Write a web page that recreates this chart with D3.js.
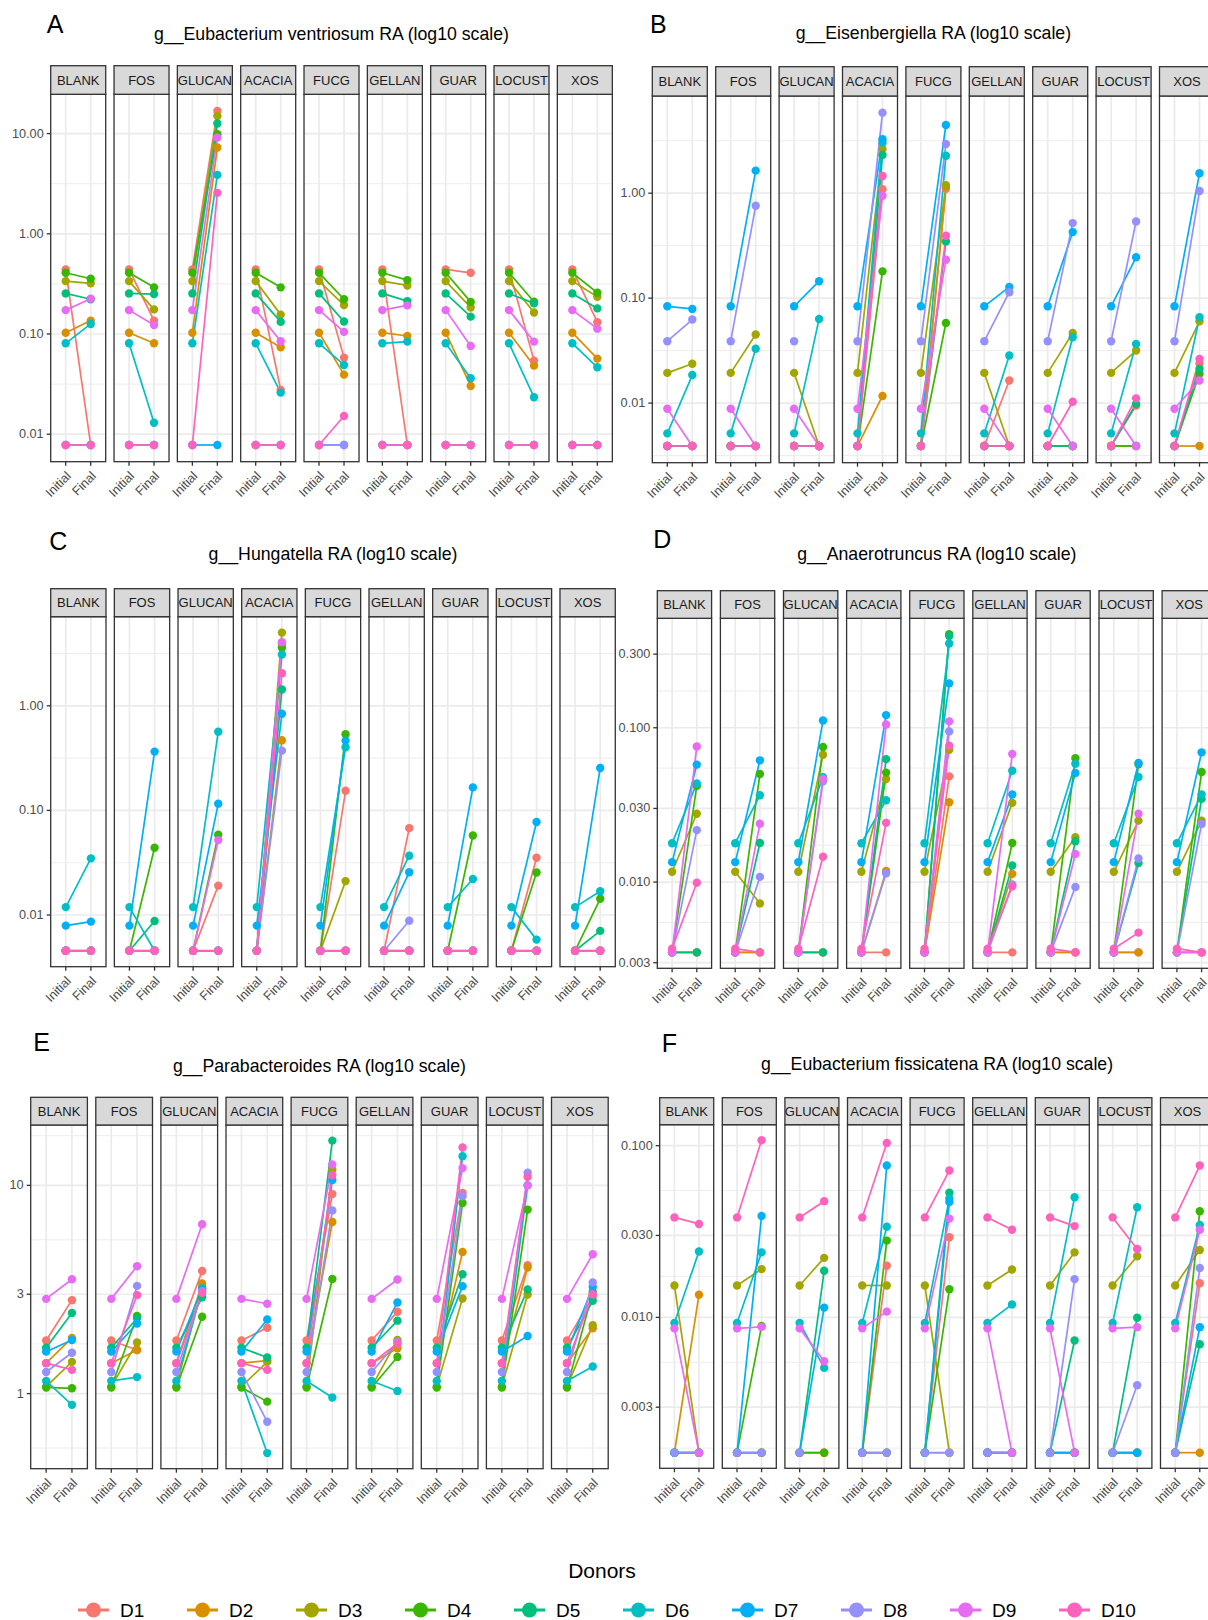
<!DOCTYPE html>
<html>
<head>
<meta charset="utf-8">
<script src="https://cdn.jsdelivr.net/npm/d3@7"></script>
<style>
  body { margin: 0; background: #fff; }
  svg { display: block; }
  text { font-family: "Liberation Sans", Arial, Helvetica, sans-serif; }
</style>
</head>
<body>
<div id="chart"></div>
<script>
// Categories
var donors = ["D1", "D2", "D3", "D4", "D5", "D6", "D7", "D8", "D9", "D10"];
var donorColors = ["#F8766D", "#D89000", "#A3A500", "#39B600", "#00BF7D",
                   "#00BFC4", "#00B0F6", "#9590FF", "#E76BF3", "#FF62BC"];
var substrates = ["BLANK", "FOS", "GLUCAN", "ACACIA", "FUCG", "GELLAN", "GUAR", "LOCUST", "XOS"];
var timepoints = ["Initial", "Final"];

// Tick break lists (log10 scale), filtered to the visible range later
var decadeBreaks = [0.001, 0.01, 0.1, 1, 10, 100];
var oneThreeBreaksLow = [0.001, 0.003, 0.01, 0.03, 0.1, 0.3, 1];
var oneThreeBreaksHigh = [0.1, 0.3, 1, 3, 10, 30, 100];

// ---- A: g__Eubacterium ventriosum (Initial per donor, Final per substrate x donor)
var ventriosumInitial = [0.441, 0.103, 0.337, 0.408, 0.254, 0.0807, 0.0078, 0.0078, 0.173, 0.0078];
var ventriosumFinal = [
  [0.0078, 0.136, 0.320, 0.356, 0.222, 0.126, 0.0078, 0.0078, 0.225, 0.0078],
  [0.136, 0.0807, 0.176, 0.292, 0.250, 0.0130, 0.0078, 0.0078, 0.123, 0.0078],
  [16.8, 7.25, 15.0, 9.85, 12.6, 3.87, 0.0078, null, 9.12, 2.56],
  [0.0277, 0.0736, 0.156, 0.292, 0.132, 0.0260, 0.0078, 0.0078, 0.0845, 0.0078],
  [0.0581, 0.0393, 0.194, 0.222, 0.133, 0.0491, 0.0078, 0.0078, 0.105, 0.0152],
  [0.0078, 0.0955, 0.305, 0.345, 0.213, 0.0839, 0.0078, 0.0078, 0.193, 0.0078],
  [0.408, 0.0303, 0.184, 0.209, 0.149, 0.0361, 0.0078, 0.0078, 0.0759, 0.0078],
  [0.0542, 0.0483, 0.164, 0.210, 0.202, 0.0234, 0.0078, 0.0078, 0.0839, 0.0078],
  [0.131, 0.0568, 0.235, 0.258, 0.180, 0.0465, 0.0078, 0.0078, 0.113, 0.0078]
];

// ---- B: g__Eisenbergiella
var eisenInitial = [0.0039, 0.0039, 0.0194, 0.0039, 0.0039, 0.00515, 0.0836, 0.0389, 0.00883, 0.0039];
var eisenFinal = [
  [0.0039, 0.0039, 0.0237, 0.0039, 0.0039, 0.0185, 0.0789, 0.0625, 0.0039, 0.0039],
  [0.0039, 0.0039, 0.045, 0.0039, 0.0039, 0.0329, 1.64, 0.758, 0.0039, 0.0039],
  [0.0039, 0.0039, 0.0039, 0.0039, 0.0039, 0.0634, 0.145, null, 0.0039, 0.0039],
  [1.09, 0.0117, 2.64, 0.180, 2.31, 3.03, 3.26, 5.85, 0.944, 1.46],
  [1.10, 1.15, 1.19, 0.058, 0.347, 2.27, 4.47, 2.94, 0.232, 0.393],
  [0.0164, 0.0039, 0.0039, 0.0039, 0.0039, 0.0284, 0.128, 0.114, 0.0039, 0.0039],
  [0.0039, 0.0039, 0.0466, 0.0039, 0.0039, 0.0424, 0.426, 0.519, 0.0039, 0.0103],
  [0.0095, 0.0039, 0.0317, 0.0039, 0.0098, 0.0366, 0.245, 0.538, 0.0039, 0.0111],
  [0.0238, 0.0039, 0.0602, 0.019, 0.0212, 0.0657, 1.55, 1.05, 0.0164, 0.0264]
];

// ---- C: g__Hungatella
var hungaInitial = [0.00455, 0.00455, 0.00455, 0.00455, 0.00455, 0.0119, 0.00792, 0.00455, 0.00455, 0.00455];
var hungaFinal = [
  [0.00455, 0.00455, 0.00455, 0.00455, 0.00455, 0.0348, 0.00865, 0.00455, 0.00455, 0.00455],
  [0.00455, 0.00455, 0.00455, 0.0440, 0.00877, 0.00455, 0.365, 0.00455, 0.00455, 0.00455],
  [0.0191, 0.00455, 0.00455, 0.0585, 0.00455, 0.566, 0.116, 0.00455, 0.052, 0.00455],
  [3.9, 0.468, 5.01, 3.59, 1.43, 3.10, 0.84, 0.373, 4.06, 2.05],
  [0.154, 0.00455, 0.0211, 0.534, 0.00455, 0.402, 0.465, 0.00455, 0.00455, 0.00455],
  [0.0677, 0.00455, 0.00455, 0.00455, 0.00455, 0.0369, 0.0256, 0.00883, 0.00455, 0.00455],
  [0.00455, 0.00455, 0.00455, 0.0576, 0.00455, 0.0221, 0.166, 0.00455, 0.00455, 0.00455],
  [0.0353, 0.00455, 0.00455, 0.0255, 0.00455, 0.00582, 0.0776, 0.00455, 0.00455, 0.00455],
  [0.00455, 0.00455, 0.00455, 0.0143, 0.00705, 0.0169, 0.254, 0.00455, 0.00455, 0.00455]
];

// ---- D: g__Anaerotruncus
var anaeroInitial = [0.0035, 0.0035, 0.01166, 0.0035, 0.0035, 0.01786, 0.01346, 0.0035, 0.0035, 0.0037];
var anaeroFinal = [
  [0.0035, 0.0035, 0.0277, 0.042, 0.0035, 0.0435, 0.0577, 0.0217, 0.0757, 0.0099],
  [0.0035, 0.0035, 0.00727, 0.0501, 0.0179, 0.0365, 0.0615, 0.0108, 0.0239, 0.0035],
  [0.0035, 0.0035, 0.0669, 0.075, 0.0035, 0.0478, 0.1114, 0.045, 0.0466, 0.0146],
  [0.0035, 0.0118, 0.0466, 0.0512, 0.0626, 0.0339, 0.1208, 0.0114, 0.105, 0.0242],
  [0.0484, 0.0329, 0.072, 0.404, 0.393, 0.352, 0.194, 0.0947, 0.110, 0.0765],
  [0.0035, 0.0113, 0.0326, 0.0179, 0.0128, 0.0527, 0.0369, 0.00966, 0.0676, 0.0094],
  [0.0035, 0.0035, 0.0195, 0.0634, 0.0184, 0.0585, 0.0509, 0.0093, 0.0152, 0.0035],
  [0.0035, 0.0035, 0.0250, 0.058, 0.0133, 0.048, 0.0591, 0.0142, 0.0277, 0.0047],
  [0.0035, 0.0035, 0.025, 0.0517, 0.0346, 0.0369, 0.0693, 0.0238, 0.0035, 0.0035]
];

// ---- E: g__Parabacteroides
var paraInitial = [1.80, 1.40, 1.08, 1.07, 1.66, 1.15, 1.59, 1.27, 2.85, 1.40];
var paraFinal = [
  [2.81, 1.85, 1.42, 1.06, 2.44, 0.883, 1.81, 1.57, 3.54, 1.30],
  [1.62, 1.62, 1.76, 2.36, 2.30, 1.20, 2.17, 3.29, 4.09, 2.97],
  [3.88, 3.38, 3.25, 2.34, 2.9, 3.15, 3.2, 3.1, 6.5, 3.05],
  [2.07, 1.44, 1.42, 0.915, 1.49, 0.518, 2.27, 0.732, 2.70, 1.30],
  [9.08, 6.67, 11.9, 3.55, 16.4, 0.957, 10.6, 7.58, 12.6, 11.2],
  [2.47, 1.65, 1.81, 1.50, 2.24, 1.03, 2.74, 1.77, 3.53, 1.74],
  [9.19, 4.79, 2.86, 8.23, 3.74, 13.8, 3.28, 8.86, 12.1, 15.2],
  [4.14, 4.03, 2.99, 7.65, 3.16, 10.0, 1.89, 11.5, 10.0, 11.0],
  [2.92, 2.06, 2.13, 3.08, 2.79, 1.35, 3.25, 3.42, 4.67, 3.0]
];

// ---- F: g__Eubacterium fissicatena
var fissiInitial = [0.00163, 0.00163, 0.01534, 0.00163, 0.00163, 0.00928, 0.00163, 0.00163, 0.00863, 0.0382];
var fissiFinal = [
  [0.00163, 0.01355, 0.00163, 0.00163, 0.00163, 0.0242, 0.00163, 0.00163, 0.00163, 0.035],
  [0.00163, 0.00163, 0.0191, 0.0089, 0.00163, 0.0239, 0.0389, 0.00163, 0.0088, 0.1074],
  [0.00163, 0.00163, 0.0222, 0.00163, 0.0187, 0.00508, 0.0114, null, 0.00556, 0.0475],
  [0.02, 0.00163, 0.01534, 0.028, 0.00163, 0.0337, 0.0766, 0.00163, 0.0108, 0.1036],
  [0.0293, 0.00163, 0.00163, 0.0146, 0.0532, 0.0493, 0.047, 0.00163, 0.0376, 0.0716],
  [0.00163, 0.00163, 0.0190, 0.00163, 0.00163, 0.0119, 0.00163, 0.00163, 0.00163, 0.0324],
  [0.00163, 0.00163, 0.0239, 0.00163, 0.00733, 0.0501, 0.00163, 0.0167, 0.00163, 0.034],
  [0.00163, 0.00163, 0.0227, 0.00163, 0.00996, 0.0438, 0.00163, 0.00403, 0.00877, 0.025],
  [0.0158, 0.00163, 0.0247, 0.0415, 0.00697, 0.0345, 0.00877, 0.0194, 0.0324, 0.0766]
];

// Panel layout (pixel positions of the facet grid, labels)
var panels = [
  { letter: "A", title: "g__Eubacterium ventriosum RA (log10 scale)", initial: ventriosumInitial, final: ventriosumFinal,
    breaks: decadeBreaks, fmt: ".2f", x0: 50.7, step: 63.33, w: 55, stripTop: 65.7, top: 94.3, bottom: 461.7,
    lx: 46.7, ly: 33, ty: 40 },
  { letter: "B", title: "g__Eisenbergiella RA (log10 scale)", initial: eisenInitial, final: eisenFinal,
    breaks: decadeBreaks, fmt: ".2f", x0: 652.3, step: 63.4, w: 55, stripTop: 66.7, top: 96, bottom: 462.7,
    lx: 650, ly: 33, ty: 38.5 },
  { letter: "C", title: "g__Hungatella RA (log10 scale)", initial: hungaInitial, final: hungaFinal,
    breaks: decadeBreaks, fmt: ".2f", x0: 50.7, step: 63.66, w: 55.3, stripTop: 588.7, top: 616.7, bottom: 966.7,
    lx: 49.3, ly: 550, ty: 559.5 },
  { letter: "D", title: "g__Anaerotruncus RA (log10 scale)", initial: anaeroInitial, final: anaeroFinal,
    breaks: oneThreeBreaksLow, fmt: ".3f", x0: 657.3, step: 63.1, w: 54.3, stripTop: 590.7, top: 618.3, bottom: 968.3,
    lx: 653.3, ly: 548.3, ty: 559.5 },
  { letter: "E", title: "g__Parabacteroides RA (log10 scale)", initial: paraInitial, final: paraFinal,
    breaks: oneThreeBreaksHigh, fmt: "~g", x0: 30.7, step: 65.1, w: 56.7, stripTop: 1097.3, top: 1125, bottom: 1468.7,
    lx: 33.3, ly: 1050.7, ty: 1072 },
  { letter: "F", title: "g__Eubacterium fissicatena RA (log10 scale)", initial: fissiInitial, final: fissiFinal,
    breaks: oneThreeBreaksLow, fmt: ".3f", x0: 659.7, step: 62.6, w: 54, stripTop: 1097.7, top: 1124.7, bottom: 1468.3,
    lx: 661.7, ly: 1052.3, ty: 1069.5 }
];

var svg = d3.select("#chart")
  .append("svg")
    .attr("width", 1208)
    .attr("height", 1620)
    .style("background", "#fff");

panels.forEach(function(p) {
  var g = svg.append("g").attr("class", "panel");

  // y scale: log10, ggplot-like 5% expansion of the data range
  var logs = p.initial.concat(d3.merge(p.final)).filter(function(v) { return v != null; }).map(Math.log10);
  var lo = d3.min(logs), hi = d3.max(logs), pad = (hi - lo) * 0.05;
  var y = d3.scaleLog().domain([Math.pow(10, lo - pad), Math.pow(10, hi + pad)]).range([p.bottom, p.top]);
  var dom = y.domain();
  var inRange = function(b) { return b >= dom[0] && b <= dom[1]; };
  var major = p.breaks.filter(inRange);
  var minor = d3.pairs(p.breaks).map(function(d) { return Math.sqrt(d[0] * d[1]); }).filter(inRange);
  var fmt = d3.format(p.fmt);

  // facet positions
  var facet = d3.scalePoint().domain(substrates).range([p.x0, p.x0 + p.step * (substrates.length - 1)]);

  // title + panel letter
  g.append("text")
    .attr("x", p.x0 + (p.step * (substrates.length - 1) + p.w) / 2)
    .attr("y", p.ty)
    .attr("text-anchor", "middle")
    .style("font-size", "17.7px")
    .style("fill", "#000")
    .text(p.title);
  g.append("text")
    .attr("x", p.lx)
    .attr("y", p.ly)
    .style("font-size", "25px")
    .style("fill", "#000")
    .text(p.letter);

  substrates.forEach(function(sub, si) {
    var fx = facet(sub);
    var x = d3.scalePoint().domain(timepoints).range([fx, fx + p.w]).padding(0.6);
    var f = g.append("g").attr("class", "facet");

    f.append("rect")
      .attr("x", fx).attr("y", p.top)
      .attr("width", p.w).attr("height", p.bottom - p.top)
      .attr("fill", "#fff");

    // grid lines
    f.selectAll("line.minor").data(minor).enter().append("line")
      .attr("class", "minor")
      .attr("x1", fx).attr("x2", fx + p.w)
      .attr("y1", function(d) { return y(d); }).attr("y2", function(d) { return y(d); })
      .attr("stroke", "#EBEBEB").attr("stroke-width", 0.9);
    f.selectAll("line.major").data(major).enter().append("line")
      .attr("class", "major")
      .attr("x1", fx).attr("x2", fx + p.w)
      .attr("y1", function(d) { return y(d); }).attr("y2", function(d) { return y(d); })
      .attr("stroke", "#EBEBEB").attr("stroke-width", 1.7);
    f.selectAll("line.vmajor").data(timepoints).enter().append("line")
      .attr("class", "vmajor")
      .attr("x1", function(d) { return x(d); }).attr("x2", function(d) { return x(d); })
      .attr("y1", p.top).attr("y2", p.bottom)
      .attr("stroke", "#EBEBEB").attr("stroke-width", 1.7);

    // one record per donor
    var rows = donors.map(function(d, i) {
      return { donor: d, color: donorColors[i], a: p.initial[i], b: p.final[si][i] };
    });

    f.selectAll("line.series").data(rows.filter(function(r) { return r.a != null && r.b != null; }))
      .enter().append("line")
      .attr("class", "series")
      .attr("x1", x("Initial")).attr("x2", x("Final"))
      .attr("y1", function(r) { return y(r.a); })
      .attr("y2", function(r) { return y(r.b); })
      .attr("stroke", function(r) { return r.color; })
      .attr("stroke-width", 1.7);

    var pts = [];
    rows.forEach(function(r) {
      if (r.a != null) pts.push({ t: "Initial", v: r.a, color: r.color });
    });
    rows.forEach(function(r) {
      if (r.b != null) pts.push({ t: "Final", v: r.b, color: r.color });
    });
    f.selectAll("circle").data(pts).enter().append("circle")
      .attr("cx", function(d) { return x(d.t); })
      .attr("cy", function(d) { return y(d.v); })
      .attr("r", 4.2)
      .attr("fill", function(d) { return d.color; });

    // panel border
    f.append("rect")
      .attr("x", fx).attr("y", p.top)
      .attr("width", p.w).attr("height", p.bottom - p.top)
      .attr("fill", "none").attr("stroke", "#333").attr("stroke-width", 1.3);

    // strip
    f.append("rect")
      .attr("x", fx).attr("y", p.stripTop)
      .attr("width", p.w).attr("height", p.top - p.stripTop)
      .attr("fill", "#D9D9D9").attr("stroke", "#333").attr("stroke-width", 1.3);
    f.append("text")
      .attr("x", fx + p.w / 2).attr("y", (p.stripTop + p.top) / 2)
      .attr("text-anchor", "middle")
      .attr("dominant-baseline", "central")
      .style("font-size", "13px")
      .style("fill", "#1A1A1A")
      .text(sub);

    // x axis ticks and rotated labels
    f.selectAll("line.xtick").data(timepoints).enter().append("line")
      .attr("class", "xtick")
      .attr("x1", function(d) { return x(d); }).attr("x2", function(d) { return x(d); })
      .attr("y1", p.bottom).attr("y2", p.bottom + 4)
      .attr("stroke", "#333").attr("stroke-width", 1.3);
    f.selectAll("text.xlab").data(timepoints).enter().append("text")
      .attr("class", "xlab")
      .attr("text-anchor", "end")
      .attr("transform", function(d) { return "translate(" + (x(d) + 6) + "," + (p.bottom + 15) + ") rotate(-45)"; })
      .style("font-size", "12.7px")
      .style("fill", "#4D4D4D")
      .text(function(d) { return d; });

    // y axis only on the first facet
    if (si === 0) {
      f.selectAll("line.ytick").data(major).enter().append("line")
        .attr("class", "ytick")
        .attr("x1", fx - 4).attr("x2", fx)
        .attr("y1", function(d) { return y(d); }).attr("y2", function(d) { return y(d); })
        .attr("stroke", "#333").attr("stroke-width", 1.3);
      f.selectAll("text.ylab").data(major).enter().append("text")
        .attr("class", "ylab")
        .attr("x", fx - 7)
        .attr("y", function(d) { return y(d); })
        .attr("text-anchor", "end")
        .attr("dominant-baseline", "central")
        .style("font-size", "12.7px")
        .style("fill", "#4D4D4D")
        .text(function(d) { return fmt(d); });
    }
  });
});

// Legend
var legend = svg.append("g").attr("class", "legend");
legend.append("text")
  .attr("x", 602).attr("y", 1578)
  .attr("text-anchor", "middle")
  .style("font-size", "21px")
  .style("fill", "#000")
  .text("Donors");

var legendX = d3.scalePoint().domain(donors).range([78, 78 + 109 * 9]);
var items = legend.selectAll("g.item").data(donors).enter().append("g")
  .attr("class", "item")
  .attr("transform", function(d) { return "translate(" + legendX(d) + ",1610)"; });
items.append("line")
  .attr("x1", 0).attr("x2", 31)
  .attr("stroke", function(d, i) { return donorColors[i]; })
  .attr("stroke-width", 3);
items.append("circle")
  .attr("cx", 15.5).attr("r", 7.5)
  .attr("fill", function(d, i) { return donorColors[i]; });
items.append("text")
  .attr("x", 42)
  .attr("dominant-baseline", "central")
  .style("font-size", "19px")
  .style("fill", "#000")
  .text(function(d) { return d; });
</script>
</body>
</html>
